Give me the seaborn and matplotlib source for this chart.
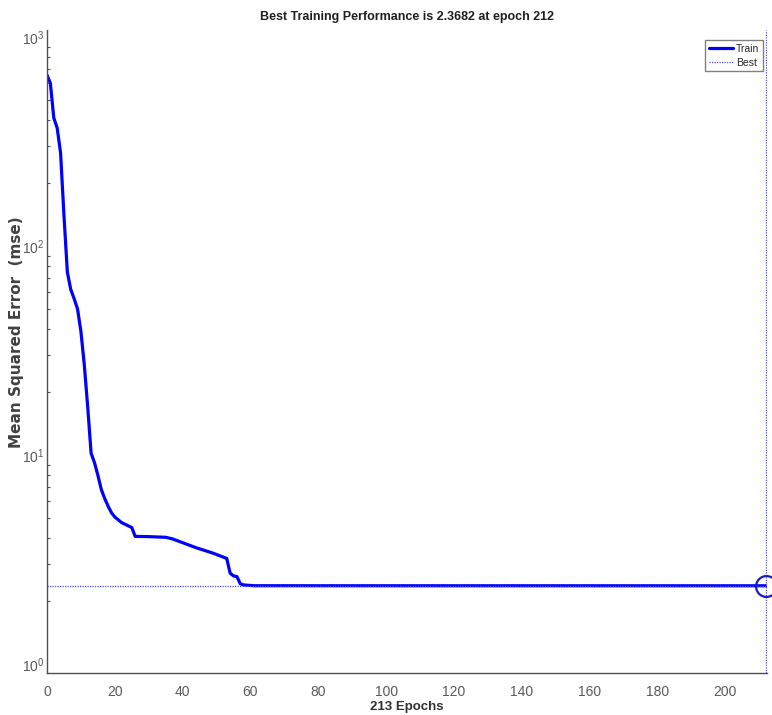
import matplotlib
matplotlib.use("Agg")
import matplotlib.pyplot as plt
import seaborn as sns
import pandas as pd
import numpy as np
from matplotlib.ticker import LogLocator, NullFormatter, FixedLocator

# ---- data ----
epochs = [0, 1, 2, 3, 4, 5, 6, 7, 8, 9, 10, 11, 12, 13, 14, 15, 16, 17, 18, 19,
          20, 22, 24, 25, 26, 30, 35, 37, 39, 44, 49, 53, 54, 55, 56, 57, 58, 61,
          80, 120, 160, 212]
train_mse = [658, 600, 410, 367, 279, 140, 75, 62, 56, 50, 39, 27, 17, 10.2, 9.2,
             8.0, 6.85, 6.2, 5.7, 5.3, 5.05, 4.75, 4.58, 4.5, 4.08, 4.07, 4.04,
             3.97, 3.86, 3.6, 3.39, 3.2, 2.72, 2.64, 2.62, 2.42, 2.39, 2.37,
             2.369, 2.3685, 2.3683, 2.3682]
best_epoch = 212
best_perf = 2.3682
x_ticks = [0, 20, 40, 60, 80, 100, 120, 140, 160, 180, 200]
title_text = "Best Training Performance is 2.3682 at epoch 212"
xlabel_text = "213 Epochs"
ylabel_text = "Mean Squared Error  (mse)"

df = pd.DataFrame({"Epoch": epochs, "Train": train_mse})

sns.set_style("white")
plt.rcParams["font.family"] = ["Liberation Sans", "DejaVu Sans"]
plt.rcParams["mathtext.fontset"] = "custom"
plt.rcParams["mathtext.rm"] = "Liberation Sans"
plt.rcParams["mathtext.it"] = "Liberation Sans"

fig = plt.figure(figsize=(7.72, 7.15), dpi=100)
ax = fig.add_axes([47 / 772, 1 - 673 / 715, 720 / 772, 643 / 715])

blue = (0, 0, 1)
sns.lineplot(data=df, x="Epoch", y="Train", ax=ax, color=blue, linewidth=2.3,
             label="Train", legend=False)

ylim = (0.906, 1080)
best_col = (0.3, 0.3, 0.92)
ax.plot([0, best_epoch], [best_perf, best_perf], linestyle=(0, (1, 1)),
        color=best_col, linewidth=0.9, label="Best")
ax.plot([best_epoch, best_epoch], list(ylim), linestyle=(0, (1, 1)),
        color=best_col, linewidth=0.9)
ax.plot([best_epoch], [best_perf], marker="o", markersize=15,
        markerfacecolor="none", markeredgecolor=(0.1, 0.1, 0.75),
        markeredgewidth=1.6, clip_on=False, linestyle="none")

ax.set_yscale("log")
ax.set_ylim(*ylim)
ax.set_xlim(0, 212.3)
ax.xaxis.set_major_locator(FixedLocator(x_ticks))
ax.yaxis.set_major_locator(LogLocator(base=10, numticks=10))
ax.yaxis.set_minor_locator(LogLocator(base=10, subs=np.arange(2, 10), numticks=20))
ax.yaxis.set_minor_formatter(NullFormatter())

tick_grey = "#5a5a5a"
spine_grey = "#505050"
for s in ["top", "right"]:
    ax.spines[s].set_visible(False)
for s in ["left", "bottom"]:
    ax.spines[s].set_color(spine_grey)
    ax.spines[s].set_linewidth(1.0)

ax.tick_params(axis="x", which="major", direction="in", length=7, width=1,
               color=spine_grey, labelcolor=tick_grey, labelsize=10, pad=9)
ax.tick_params(axis="y", which="major", direction="in", length=5, width=1,
               color=spine_grey, labelcolor=tick_grey, labelsize=10, pad=2)
ax.tick_params(axis="y", which="minor", direction="in", length=2.5, width=0.8,
               color=spine_grey, left=True)
ax.tick_params(axis="x", which="minor", bottom=False)

ax.set_title(title_text, fontsize=9, fontweight="bold", color="#202020", pad=7)
ax.set_xlabel(xlabel_text, fontsize=9.5, fontweight="bold", color="#303030", labelpad=1)
ax.set_ylabel(ylabel_text, fontsize=11, fontweight="bold", color="#404040",
              family=["DejaVu Sans"])
ax.yaxis.set_label_coords(-23 / 720, 0.53)

leg = ax.legend(loc="upper right", bbox_to_anchor=(0.994, 0.984), fontsize=7.5,
                frameon=True, fancybox=False, framealpha=1, edgecolor="#808080",
                handlelength=2.3, handletextpad=0.3, borderpad=0.35,
                labelspacing=0.35, borderaxespad=0)
leg.get_frame().set_linewidth(1.0)

fig.savefig("out.png", dpi=100)
